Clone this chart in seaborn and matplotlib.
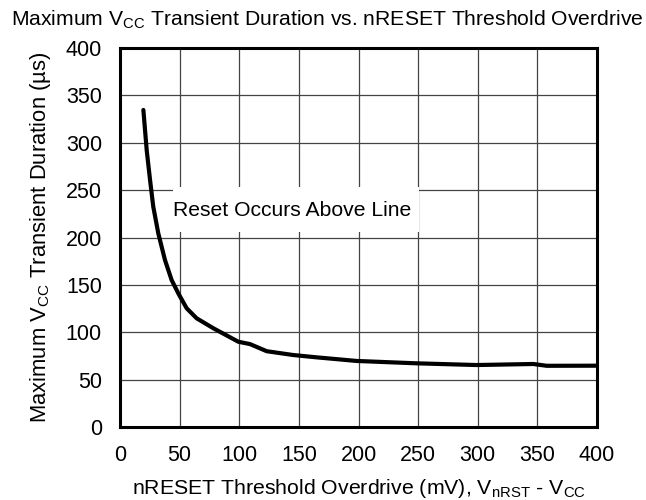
import matplotlib
matplotlib.use("Agg")
import matplotlib.pyplot as plt
from matplotlib.patches import Rectangle
import seaborn as sns
import pandas as pd

overdrive_mv = [19.6, 22.4, 25.2, 27.9, 32.1, 37.7, 43.3, 48.9, 55.9, 64.3, 78.3, 99.2, 109, 123, 145, 165,
                198.5, 248.8, 299, 346.6, 357.8, 400]
duration_us = [334.6, 292, 260.7, 232.5, 204.4, 176.3, 155.1, 141, 125.3, 114.7, 104.2, 90, 87.5, 80, 76, 73.5,
               69.7, 67.2, 65.4, 66.5, 64.6, 64.7]
x_ticks = [0, 50, 100, 150, 200, 250, 300, 350, 400]
y_ticks = [0, 50, 100, 150, 200, 250, 300, 350, 400]

sns.set_theme(style="white")
plt.rcParams['font.family'] = ['Liberation Sans', 'DejaVu Sans']
plt.rcParams['mathtext.default'] = 'regular'

df = pd.DataFrame({"x": overdrive_mv, "y": duration_us})

fig = plt.figure(figsize=(6.46, 5.0), dpi=100)
ax = fig.add_axes([120/646, 1-427/500, 477/646, 379/500])

sns.lineplot(data=df, x="x", y="y", ax=ax, color="black", linewidth=3.0, sort=True, zorder=3)

ax.set_xlim(0, 400)
ax.set_ylim(0, 400)
ax.set_xticks(x_ticks)
ax.set_yticks(y_ticks)
ax.grid(True, color="#444444", linewidth=0.9)
ax.set_axisbelow(True)
for s in ax.spines.values():
    s.set_color("black")
    s.set_linewidth(2.2)
ax.tick_params(axis="both", labelsize=15.5, colors="black", length=0)
ax.tick_params(axis="x", pad=13)
ax.tick_params(axis="y", pad=13)

ax.set_xlabel("nRESET Threshold Overdrive (mV), V$_{nRST}$ - V$_{CC}$", fontsize=15.3, color="black", labelpad=8)
ax.set_ylabel("Maximum V$_{CC}$ Transient Duration (µs)", fontsize=15.8, color="black", labelpad=9)
fig.text(327/646, 1-20/500, "Maximum V$_{CC}$ Transient Duration vs. nRESET Threshold Overdrive",
         ha="center", va="center", fontsize=15.2, color="black")

ax.add_patch(Rectangle((44.5, 206), 206, 47.5, facecolor="white", edgecolor="none", zorder=2))
ax.text(44.5, 229, "Reset Occurs Above Line", fontsize=15.2, color="black", ha="left", va="center", zorder=4)

fig.savefig("out.png", dpi=100)
